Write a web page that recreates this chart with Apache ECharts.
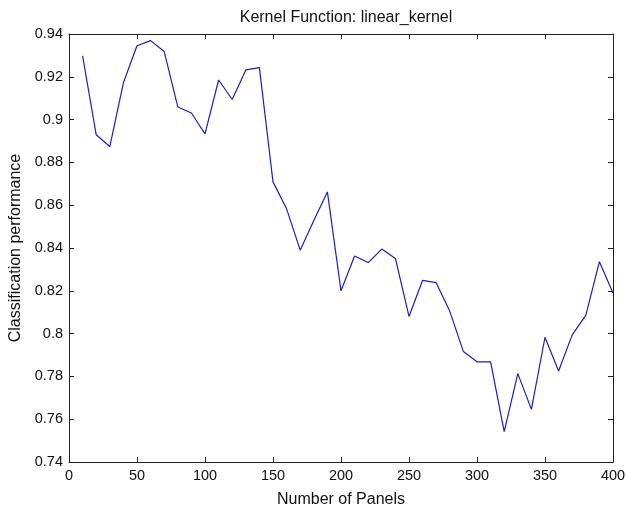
<!DOCTYPE html>
<html>
<head>
<meta charset="utf-8">
<script src="https://cdn.jsdelivr.net/npm/echarts@6/dist/echarts.min.js"></script>
<style>
  html, body { margin: 0; padding: 0; background: #fff; }
  #chart { width: 626px; height: 508px; }
</style>
</head>
<body>
<div id="chart"></div>
<script>
// 面板数量
const panels = [10, 20, 30, 40, 50, 60, 70, 80, 90, 100,
  110, 120, 130, 140, 150, 160, 170, 180, 190, 200,
  210, 220, 230, 240, 250, 260, 270, 280, 290, 300,
  310, 320, 330, 340, 350, 360, 370, 380, 390, 400];
// 分类性能
const performance = [0.9298, 0.8929, 0.8874, 0.9172, 0.9345, 0.9369, 0.9318, 0.9059, 0.9031, 0.8933,
  0.9185, 0.9094, 0.9232, 0.9243, 0.8709, 0.8583, 0.8390, 0.8528, 0.8662, 0.8200,
  0.8363, 0.8332, 0.8395, 0.8351, 0.8080, 0.8249, 0.8238, 0.8104, 0.7916, 0.7868,
  0.7868, 0.7542, 0.7813, 0.7646, 0.7983, 0.7825, 0.7994, 0.8085, 0.8336, 0.8190];
const yTickLabels = ['0.74', '0.76', '0.78', '0.8', '0.82', '0.84', '0.86', '0.88', '0.9', '0.92', '0.94'];

const font = 'Liberation Sans, Arial, sans-serif';
const seriesData = panels.map((p, i) => [p, performance[i]]);

const tickStyle = { show: true, inside: true, length: 5, lineStyle: { color: '#222', width: 1 } };
const lineStyle = { show: true, onZero: false, lineStyle: { color: '#222', width: 1 } };

const chart = echarts.init(document.getElementById('chart'));
chart.setOption({
  backgroundColor: '#fff',
  animation: false,
  title: {
    text: 'Kernel Function: linear_kernel',
    left: 341,
    top: 5,
    textAlign: 'center',
    textStyle: { fontFamily: font, fontSize: 16, fontWeight: 'normal', color: '#111' }
  },
  grid: {
    left: 69, right: 13, top: 34, bottom: 46,
    show: false, containLabel: false, outerBoundsMode: 'none'
  },
  xAxis: [
    {
      type: 'value',
      min: 0, max: 400, interval: 50,
      name: 'Number of Panels',
      nameLocation: 'middle',
      nameGap: 30,
      nameTextStyle: { fontFamily: font, fontSize: 16, color: '#111' },
      axisLine: lineStyle,
      axisTick: tickStyle,
      axisLabel: { fontFamily: font, fontSize: 14.5, color: '#111', margin: 6 },
      splitLine: { show: false }
    },
    {
      type: 'value', position: 'top',
      min: 0, max: 400, interval: 50,
      axisLine: lineStyle,
      axisTick: tickStyle,
      axisLabel: { show: false },
      splitLine: { show: false }
    }
  ],
  yAxis: [
    {
      type: 'value',
      min: 0.74, max: 0.94, interval: 0.02,
      name: 'Classification performance',
      nameLocation: 'middle',
      nameGap: 45,
      nameTextStyle: { fontFamily: font, fontSize: 16, color: '#111' },
      axisLine: lineStyle,
      axisTick: tickStyle,
      axisLabel: {
        fontFamily: font, fontSize: 14.5, color: '#111', margin: 6,
        formatter: (v) => yTickLabels[Math.round((v - 0.74) / 0.02)]
      },
      splitLine: { show: false }
    },
    {
      type: 'value', position: 'right',
      min: 0.74, max: 0.94, interval: 0.02,
      axisLine: lineStyle,
      axisTick: tickStyle,
      axisLabel: { show: false },
      splitLine: { show: false }
    }
  ],
  series: [
    {
      type: 'line',
      data: seriesData,
      showSymbol: false,
      lineStyle: { color: '#1f1fb4', width: 1.2 }
    }
  ]
});
</script>
</body>
</html>
